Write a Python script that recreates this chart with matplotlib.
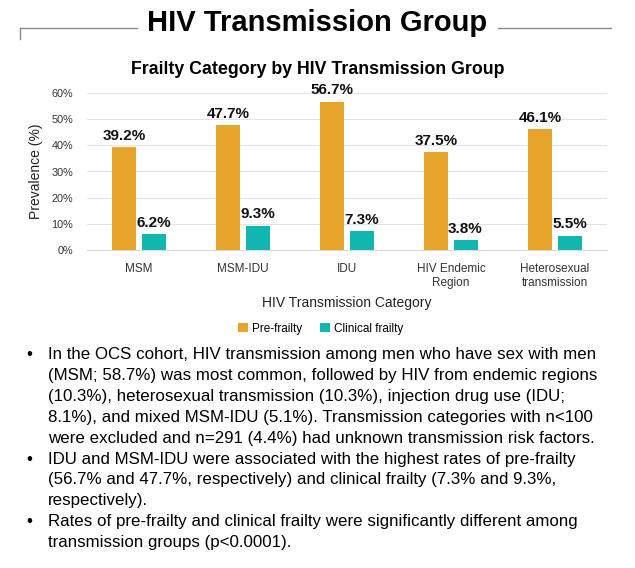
"""Frailty category by HIV transmission group, slide-style chart."""

import matplotlib.pyplot as plt
import numpy as np
from matplotlib.lines import Line2D

categories = ["MSM", "MSM-IDU", "IDU", "HIV Endemic\nRegion", "Heterosexual\ntransmission"]
pre_frailty = [39.2, 47.7, 56.7, 37.5, 46.1]
clinical_frailty = [6.2, 9.3, 7.3, 3.8, 5.5]
yticks = [0, 10, 20, 30, 40, 50, 60]

bullets = [
    [
        "In the OCS cohort, HIV transmission among men who have sex with men",
        "(MSM; 58.7%) was most common, followed by HIV from endemic regions",
        "(10.3%), heterosexual transmission (10.3%), injection drug use (IDU;",
        "8.1%), and mixed MSM-IDU (5.1%). Transmission categories with n<100",
        "were excluded and n=291 (4.4%) had unknown transmission risk factors.",
    ],
    [
        "IDU and MSM-IDU were associated with the highest rates of pre-frailty",
        "(56.7% and 47.7%, respectively) and clinical frailty (7.3% and 9.3%,",
        "respectively).",
    ],
    [
        "Rates of pre-frailty and clinical frailty were significantly different among",
        "transmission groups (p<0.0001).",
    ],
]

ORANGE = "#E6A52A"
TEAL = "#10B6AF"

plt.rcParams["font.family"] = ["Liberation Sans", "DejaVu Sans"]

fig = plt.figure(figsize=(6.35, 5.68), dpi=100)
W, H = 635, 568

def fy(py):
    return 1 - py / H

# slide header
fig.text(0.5, fy(23), "HIV Transmission Group", ha="center", va="center",
         fontsize=21, fontweight="bold")
fig.add_artist(Line2D([20 / W, 137 / W], [fy(28), fy(28)], color="#8c8c8c", lw=1.0))
fig.add_artist(Line2D([20 / W, 20 / W], [fy(28), fy(39)], color="#8c8c8c", lw=1.0))
fig.add_artist(Line2D([498 / W, 611 / W], [fy(28), fy(28)], color="#8c8c8c", lw=1.0))

fig.text(318 / W, fy(69), "Frailty Category by HIV Transmission Group", ha="center",
         va="center", fontsize=12.8, fontweight="bold")

ax = fig.add_axes([87 / W, fy(250), 520 / W, 157 / H])
x = np.arange(len(categories))
w = 0.23
b1 = ax.bar(x - 0.14, pre_frailty, w, color=ORANGE, label="Pre-frailty")
b2 = ax.bar(x + 0.14, clinical_frailty, w, color=TEAL, label="Clinical frailty")
for bars in (b1, b2):
    for r in bars:
        ax.annotate(f"{r.get_height():.1f}%", (r.get_x() + r.get_width() / 2, r.get_height()),
                    xytext=(0, 3), textcoords="offset points", ha="center", va="bottom",
                    fontsize=11, fontweight="bold", color="#111111")

ax.set_xlim(-0.5, len(categories) - 0.5)
ax.set_ylim(0, 60)
ax.set_yticks(yticks)
ax.set_yticklabels([f"{t}%" for t in yticks])
ax.set_xticks(x)
ax.set_xticklabels(categories, fontsize=8.5, color="#333333", linespacing=1.3)
ax.tick_params(axis="y", labelsize=7.8, labelcolor="#333333", length=0, pad=10)
ax.tick_params(axis="x", length=0, pad=9)
ax.grid(axis="y", color="#e3e3e3", lw=0.8)
ax.set_axisbelow(True)
for s in ["top", "right", "left"]:
    ax.spines[s].set_visible(False)
ax.spines["bottom"].set_color("#d9d9d9")
ax.set_ylabel("Prevalence (%)", fontsize=10, color="#222222", labelpad=6)
ax.set_xlabel("HIV Transmission Category", fontsize=10, color="#222222", labelpad=5)
ax.legend(loc="center", bbox_to_anchor=(0.45, (250 - 329) / 157),
          ncol=2, frameon=False, fontsize=8.5, handlelength=0.8, handleheight=0.8,
          columnspacing=1.5, handletextpad=0.4)

# bullet text
py = 355
for para in bullets:
    fig.text(26 / W, fy(py), "\u2022", ha="left", va="center", fontsize=12.2)
    for line in para:
        fig.text(48 / W, fy(py), line, ha="left", va="center", fontsize=12.2)
        py += 20.8

fig.savefig("out.png", dpi=100)
